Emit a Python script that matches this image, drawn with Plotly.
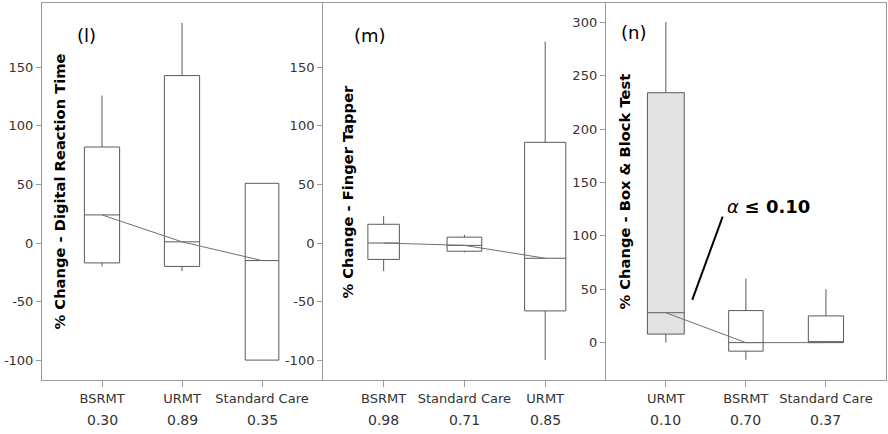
import plotly.graph_objects as go

# ---- data ----
cats_l = ["BSRMT", "URMT", "Standard Care"]
pvals_l = ["0.30", "0.89", "0.35"]
q1_l = [-17, -20, -100]
med_l = [24, 1, -15]
q3_l = [82, 143, 51]
lo_l = [-20, -24, -100]
hi_l = [126, 188, 51]

cats_m = ["BSRMT", "Standard Care", "URMT"]
pvals_m = ["0.98", "0.71", "0.85"]
q1_m = [-14, -7, -58]
med_m = [0, -2, -13]
q3_m = [16, 5, 86]
lo_m = [-24, -8, -100]
hi_m = [23, 7, 172]

cats_n = ["URMT", "BSRMT", "Standard Care"]
pvals_n = ["0.10", "0.70", "0.37"]
q1_n = [8, -8, 0]
med_n = [28, 0, 0]
q3_n = [234, 30, 25]
lo_n = [0, -16, 0]
hi_n = [300, 60, 50]

yticks_lm = [-100, -50, 0, 50, 100, 150]
yticks_n = [0, 50, 100, 150, 200, 250, 300]

ytitles = ["% Change - Digital Reaction Time", "% Change - Finger Tapper", "% Change - Box & Block Test"]
plabels = ["(l)", "(m)", "(n)"]

# ---- style ----
widths = [[0.44, 0.44, 0.42], [0.39, 0.43, 0.51], [0.46, 0.43, 0.44]]
fills = [["white"] * 3, ["white"] * 3, ["#e3e3e3", "white", "white"]]
boxcol = "#5a5a5a"
axcol = "#9a9a9a"
txtcol = "#333333"
font = "DejaVu Sans"

panels = [
    (cats_l, pvals_l, q1_l, med_l, q3_l, lo_l, hi_l),
    (cats_m, pvals_m, q1_m, med_m, q3_m, lo_m, hi_m),
    (cats_n, pvals_n, q1_n, med_n, q3_n, lo_n, hi_n),
]

fig = go.Figure()
domains = [[0, 0.3318], [0.333, 0.668], [0.668, 1.0]]
annos = []
for i, (cats, pv, q1, med, q3, lo, hi) in enumerate(panels):
    xa = "x" if i == 0 else f"x{i+1}"
    ya = "y" if i == 0 else f"y{i+1}"
    for j, c in enumerate(cats):
        fig.add_trace(go.Box(
            x=[c], q1=[q1[j]], median=[med[j]], q3=[q3[j]],
            lowerfence=[lo[j]], upperfence=[hi[j]],
            width=widths[i][j], whiskerwidth=0, boxpoints=False,
            fillcolor=fills[i][j], line=dict(color=boxcol, width=1),
            xaxis=xa, yaxis=ya, showlegend=False, hoverinfo="skip"))
    fig.add_trace(go.Scatter(
        x=cats, y=med, mode="lines", line=dict(color="#707070", width=1),
        xaxis=xa, yaxis=ya, showlegend=False, hoverinfo="skip"))
    for j, c in enumerate(cats):
        annos.append(dict(x=c, y=-0.106, xref=xa, yref="paper", text=pv[j],
                          showarrow=False, font=dict(family=font, size=14, color=txtcol),
                          xanchor="center", yanchor="middle"))

common_x = dict(type="category", range=[-0.75, 2.75], showline=True, linecolor=axcol,
                linewidth=1, mirror=True, ticks="outside", ticklen=6, tickcolor=axcol,
                tickfont=dict(family=font, size=13, color=txtcol), showgrid=False,
                zeroline=False, fixedrange=True)
common_y = dict(showline=True, linecolor=axcol, linewidth=1, ticks="outside", ticklen=5,
                tickcolor=axcol, tickfont=dict(family=font, size=13, color=txtcol),
                showgrid=False, zeroline=False)

layout = dict(
    width=888, height=434, margin=dict(l=42, r=2, t=3, b=54),
    paper_bgcolor="white", plot_bgcolor="white", showlegend=False,
)
for i in range(3):
    sx = "" if i == 0 else str(i + 1)
    layout[f"xaxis{sx}"] = dict(common_x, domain=domains[i], anchor=f"y{sx}",
                                categoryorder="array", categoryarray=panels[i][0])
    yr = [-117, 205] if i < 2 else [-35, 318]
    tv = yticks_lm if i < 2 else yticks_n
    layout[f"yaxis{sx}"] = dict(common_y, range=yr, tickvals=tv, ticktext=[str(v) for v in tv],
                                anchor=f"x{sx}", domain=[0, 1], mirror=(i == 2))
fig.update_layout(**layout)

ytx = [0.0213, 0.3614, 0.6896]
plx = [0.0533, 0.3886, 0.7014]
ply = [0.915, 0.915, 0.923]
for i in range(3):
    annos.append(dict(x=ytx[i], y=0.5, xref="paper", yref="paper", text=f"<b>{ytitles[i]}</b>",
                      textangle=-90, showarrow=False, font=dict(family=font, size=14.7, color="black"),
                      xanchor="center", yanchor="middle"))
    annos.append(dict(x=plx[i], y=ply[i], xref="paper", yref="paper", text=plabels[i],
                      showarrow=False, font=dict(family=font, size=18, color="black"),
                      xanchor="center", yanchor="middle"))

annos.append(dict(x=0.74, y=127, xref="x3", yref="y3",
                  text="<i>α</i> <b>≤ 0.10</b>", showarrow=False,
                  font=dict(family=font, size=18, color="black"), xanchor="left", yanchor="middle"))
fig.update_layout(annotations=annos)
fig.add_shape(type="line", xref="x3", yref="y3", x0=0.33, y0=40, x1=0.71, y1=118,
              line=dict(color="black", width=2))

fig.write_html("out.html")
